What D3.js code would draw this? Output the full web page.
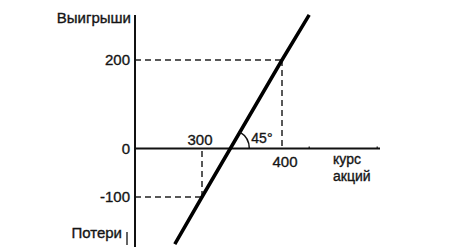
<!DOCTYPE html>
<html>
<head>
<meta charset="utf-8">
<script src="https://cdn.jsdelivr.net/npm/d3@7"></script>
<style>
  body { margin: 0; background: #fff; }
  svg { display: block; }
  text { font-family: "Liberation Sans", Arial, sans-serif; fill: #151515; stroke: #151515; stroke-width: 0.35; }
</style>
</head>
<body>
<svg width="470" height="251"></svg>
<script>
// payoff line (stock price, gain)
const lineX = [266, 300, 400, 434];
const lineY = [-197, -100, 200, 302];

// reference points marked with dashed guides
const guideX = [300, 400];
const guideY = [-100, 200];

const yTicks = [200, 0, -100];
const xTickLabels = [300, 400];

const svg = d3.select('svg');

// the picture is a scanned sketch, so the scales are piecewise
const x = d3.scaleLinear().domain([300, 400]).range([202, 282]);
const y = d3.scaleLinear().domain([-100, 0, 200]).range([197, 148.5, 60]);

const x0 = 135;   // y axis position
const y0 = y(0);  // x axis position

// dashed guides
const guides = svg.append('g')
    .attr('stroke', '#222')
    .attr('stroke-width', 1.5)
    .attr('stroke-dasharray', '6,4')
    .attr('fill', 'none');

guideX.forEach(function (gx, i) {
    guides.append('line')
        .attr('x1', x0).attr('y1', y(guideY[i]))
        .attr('x2', x(gx)).attr('y2', y(guideY[i]));
    guides.append('line')
        .attr('x1', x(gx)).attr('y1', y(guideY[i]))
        .attr('x2', x(gx)).attr('y2', y0);
});

// axes
const axes = svg.append('g').attr('stroke', '#111').attr('stroke-width', 2);
axes.append('line').attr('x1', x0).attr('y1', 15).attr('x2', x0).attr('y2', 247);
axes.append('line').attr('x1', x0).attr('y1', y0).attr('x2', 380).attr('y2', y0);
// short stroke next to the lower axis end
axes.append('line').attr('stroke-width', 1.3)
    .attr('x1', x0 - 8).attr('y1', 232).attr('x2', x0 - 8).attr('y2', 245);

// small ticks on x axis
[434, 519].forEach(function (v) {
    axes.append('line')
        .attr('stroke-width', 1.2)
        .attr('x1', x(v)).attr('y1', y0 - 2)
        .attr('x2', x(v)).attr('y2', y0);
});

// payoff line
const pts = lineX.map(function (v, i) { return [x(v), y(lineY[i])] });
svg.append('path')
    .attr('d', d3.line()(pts))
    .attr('fill', 'none')
    .attr('stroke', '#000')
    .attr('stroke-width', 3.5);

// 45 degree arc where the line crosses zero
const a = [x(300), y(-100)], b = [x(400), y(200)];
const t = (y0 - a[1]) / (b[1] - a[1]);
const cx = a[0] + t * (b[0] - a[0]);
const ang = Math.atan2(b[1] - a[1], b[0] - a[0]);
const arcPath = d3.path();
arcPath.arc(cx, y0, 19, ang, 0);
svg.append('path')
    .attr('d', arcPath.toString())
    .attr('fill', 'none')
    .attr('stroke', '#111')
    .attr('stroke-width', 1.5);

svg.append('text')
    .attr('x', cx + 21).attr('y', y0 - 6)
    .attr('font-size', 14)
    .text('45°');

// y labels
svg.selectAll('.ylab')
    .data(yTicks)
    .enter().append('text')
    .attr('class', 'ylab')
    .attr('x', x0 - 5)
    .attr('y', function (d) { return y(d) })
    .attr('dy', '0.36em')
    .attr('text-anchor', 'end')
    .attr('font-size', 15)
    .text(function (d) { return d });

// x labels
svg.append('text')
    .attr('x', x(300) - 2).attr('y', y0 - 4)
    .attr('text-anchor', 'middle')
    .attr('font-size', 15)
    .text(xTickLabels[0]);
svg.append('text')
    .attr('x', x(400) + 3).attr('y', y0 + 18)
    .attr('text-anchor', 'middle')
    .attr('font-size', 15)
    .text(xTickLabels[1]);

// axis titles
svg.append('text')
    .attr('x', 131).attr('y', 23)
    .attr('text-anchor', 'end')
    .attr('font-size', 15)
    .text('Выигрыши');
svg.append('text')
    .attr('x', 122).attr('y', 238)
    .attr('text-anchor', 'end')
    .attr('font-size', 15)
    .text('Потери');
svg.append('text')
    .attr('x', 333).attr('y', 164)
    .attr('font-size', 14)
    .text('курс');
svg.append('text')
    .attr('x', 333).attr('y', 181)
    .attr('font-size', 14)
    .text('акций');
</script>
</body>
</html>
